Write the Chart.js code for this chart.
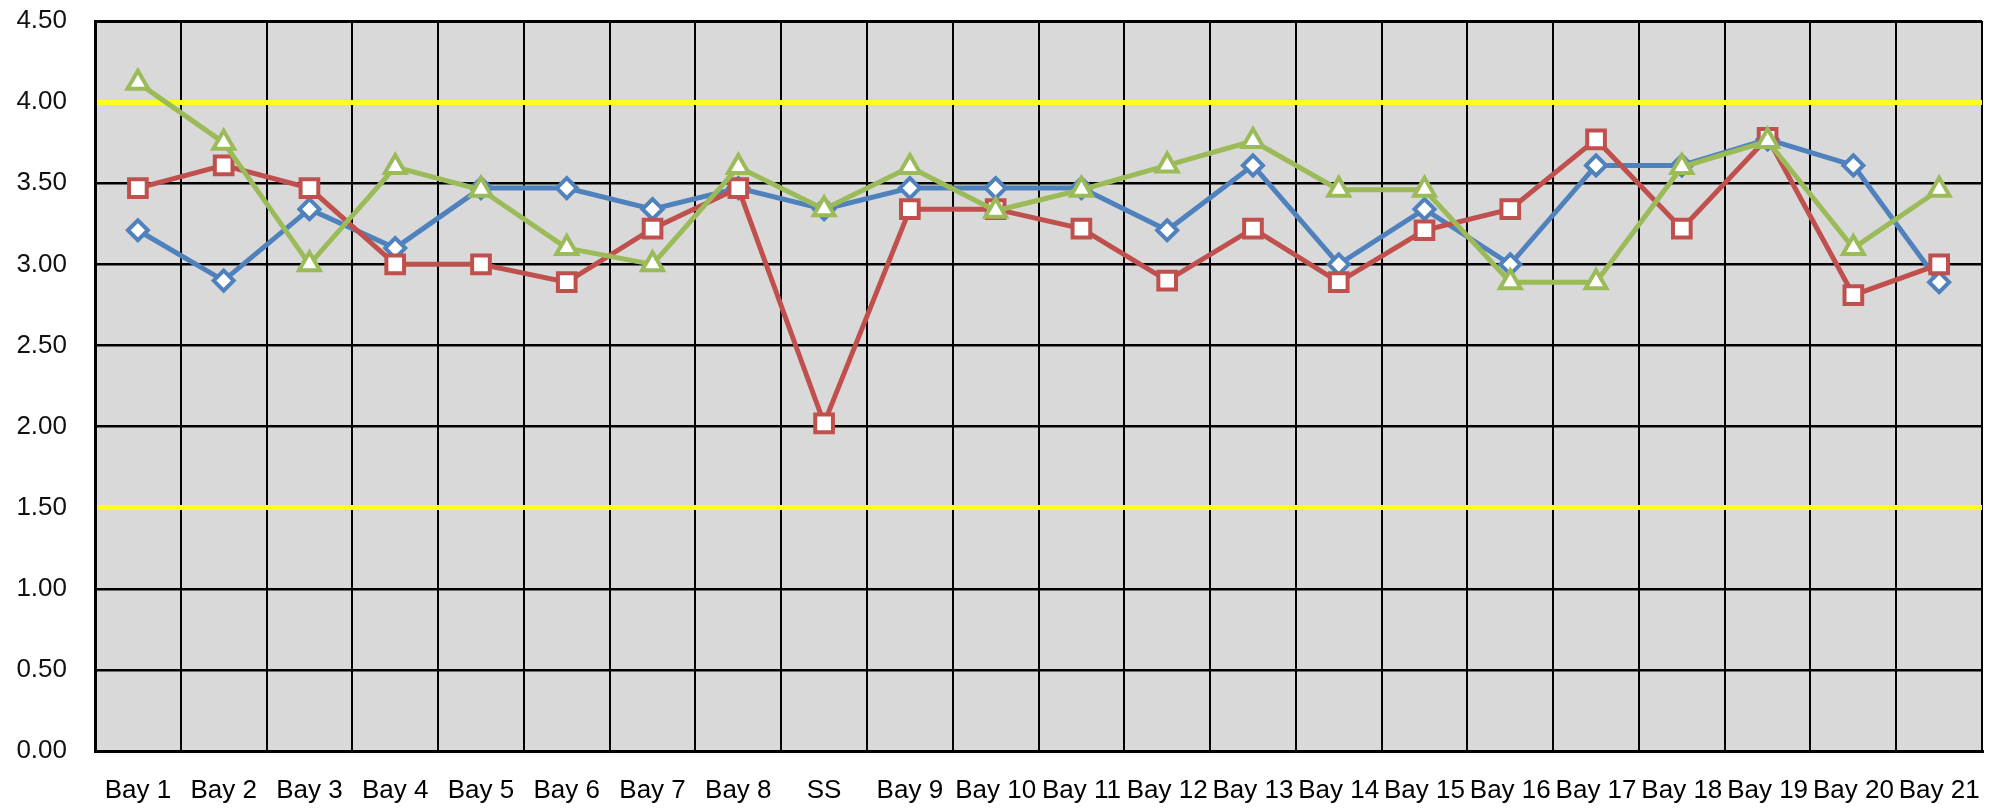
<!DOCTYPE html>
<html lang="en">
<head>
    <meta charset="UTF-8">
    <title>Bay scores</title>
    <script src="https://cdn.jsdelivr.net/npm/chart.js"></script>
    <style>
        html, body { margin: 0; padding: 0; background: white; }
        .chart-container { width: 2004px; height: 812px; }
    </style>
</head>
<body>
    <div class="chart-container">
        <canvas id="grafico"></canvas>
    </div>

    <script>
        const categories = ['Bay 1', 'Bay 2', 'Bay 3', 'Bay 4', 'Bay 5', 'Bay 6', 'Bay 7', 'Bay 8', 'SS',
            'Bay 9', 'Bay 10', 'Bay 11', 'Bay 12', 'Bay 13', 'Bay 14', 'Bay 15', 'Bay 16', 'Bay 17',
            'Bay 18', 'Bay 19', 'Bay 20', 'Bay 21'];
        const blueValues  = [3.21, 2.90, 3.34, 3.10, 3.47, 3.47, 3.34, 3.47, 3.34, 3.47, 3.47, 3.47, 3.21, 3.61, 3.00, 3.34, 3.00, 3.61, 3.61, 3.77, 3.61, 2.89];
        const redValues   = [3.47, 3.61, 3.47, 3.00, 3.00, 2.89, 3.22, 3.47, 2.02, 3.34, 3.34, 3.22, 2.90, 3.22, 2.89, 3.21, 3.34, 3.77, 3.22, 3.78, 2.81, 3.00];
        const greenValues = [4.12, 3.75, 3.00, 3.60, 3.46, 3.10, 3.00, 3.60, 3.34, 3.60, 3.33, 3.46, 3.61, 3.76, 3.46, 3.46, 2.89, 2.89, 3.60, 3.76, 3.10, 3.46];
        const limitLines = [4.0, 1.5];

        // grey plot background
        const plotBackground = {
            id: 'plotBackground',
            beforeDraw(chart) {
                const a = chart.chartArea, ctx = chart.ctx;
                ctx.save();
                ctx.fillStyle = '#d9d9d9';
                ctx.fillRect(a.left, a.top, a.right - a.left, a.bottom - a.top);
                ctx.restore();
            }
        };

        const isLimit = v => limitLines.some(l => Math.abs(l - v) < 1e-6);
        const fonte = '"Liberation Sans", Arial, sans-serif';

        new Chart(document.getElementById('grafico'), {
            type: 'line',
            data: {
                labels: categories,
                datasets: [
                    { data: blueValues, borderColor: '#4f81bd', pointStyle: 'rectRot', pointRadius: 10, order: 2 },
                    { data: redValues, borderColor: '#c0504d', pointStyle: 'rect', pointRadius: 12.5, order: 1 },
                    { data: greenValues, borderColor: '#9bbb59', pointStyle: 'triangle', pointRadius: 12, order: 0 }
                ].map(d => Object.assign(d, {
                    borderWidth: 5, pointBorderWidth: 4, pointBackgroundColor: 'white',
                    pointBorderColor: d.borderColor, tension: 0, fill: false
                }))
            },
            options: {
                responsive: true,
                maintainAspectRatio: false,
                animation: false,
                layout: { padding: { left: 0, right: 15, top: 0, bottom: 0 } },
                plugins: { legend: { display: false }, tooltip: { enabled: false } },
                scales: {
                    x: {
                        offset: true,
                        afterFit: s => { s.height = 61; },
                        grid: {
                            offset: true, drawTicks: false, color: '#000',
                            lineWidth: c => (c.index === 0 || c.index === categories.length) ? 3 : 2
                        },
                        border: { color: '#000', width: 3 },
                        ticks: { color: '#000', padding: 24, maxRotation: 0, autoSkip: false,
                            font: { family: fonte, size: 26 } }
                    },
                    y: {
                        min: 0, max: 4.5,
                        afterFit: s => { s.width = 95; s.paddingTop = 21; s.paddingBottom = 0; },
                        grid: {
                            drawTicks: false,
                            color: c => isLimit(c.tick.value) ? '#ffff1e' : '#000',
                            lineWidth: c => isLimit(c.tick.value) ? 5 : (c.tick.value === 4.5 ? 3 : 2.5)
                        },
                        border: { color: '#000', width: 3 },
                        ticks: { stepSize: 0.5, color: '#111', padding: 28,
                            callback: v => v.toFixed(2),
                            font: { family: fonte, size: 26 } }
                    }
                }
            },
            plugins: [plotBackground]
        });
    </script>
</body>
</html>
